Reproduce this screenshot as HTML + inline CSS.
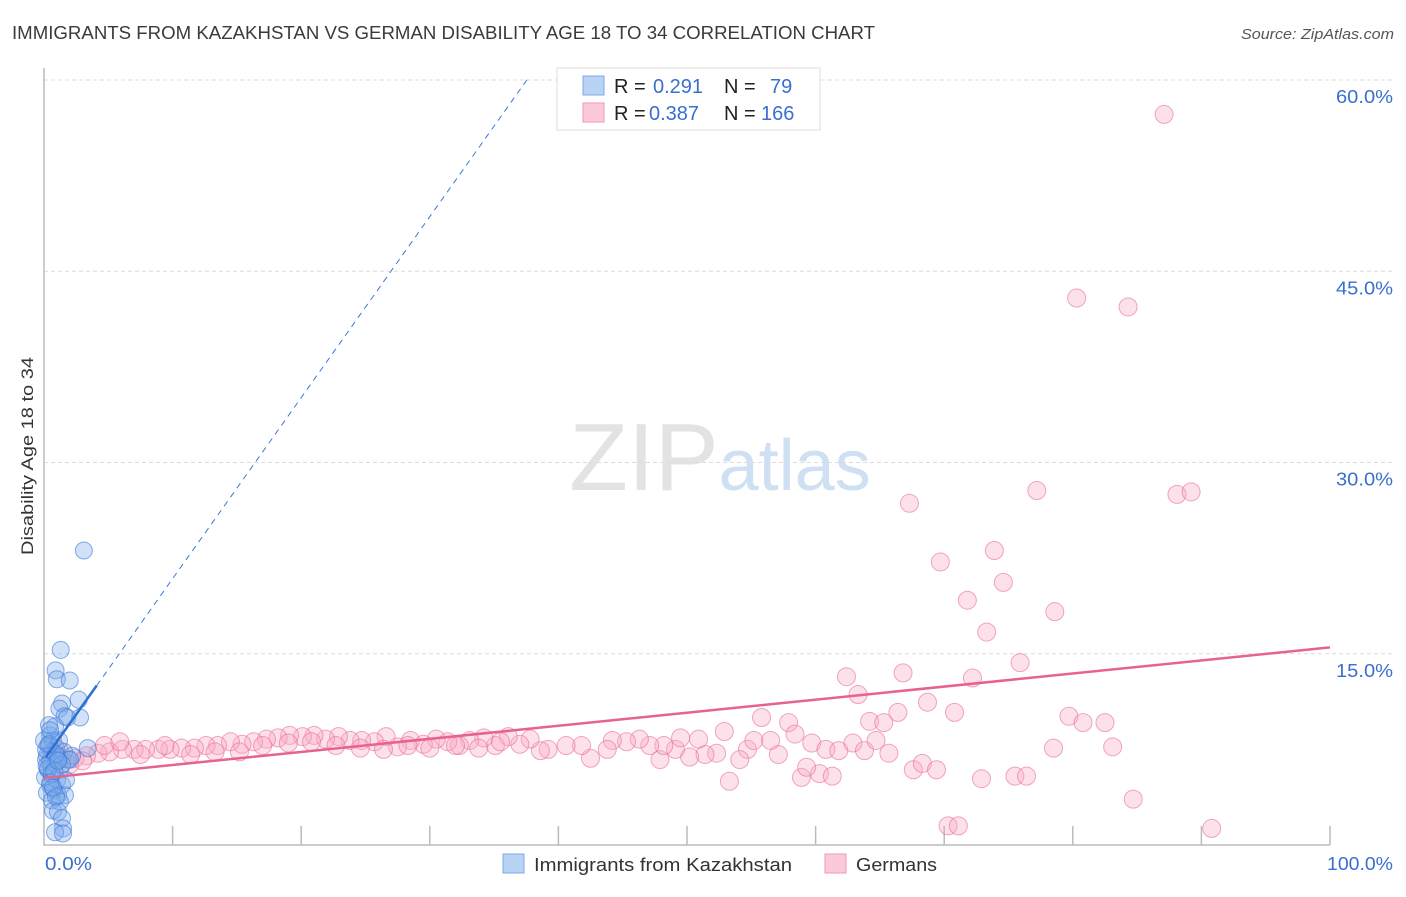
<!DOCTYPE html>
<html><head><meta charset="utf-8"><style>
body{margin:0;background:#fff;font-family:"Liberation Sans",sans-serif;}
svg text{font-family:"Liberation Sans",sans-serif;}
</style></head><body>
<svg id="chart" width="1406" height="892" xmlns="http://www.w3.org/2000/svg">
<text x="12" y="39" font-size="18" fill="#3a3a3a" textLength="863" lengthAdjust="spacingAndGlyphs">IMMIGRANTS FROM KAZAKHSTAN VS GERMAN DISABILITY AGE 18 TO 34 CORRELATION CHART</text>
<text x="1241" y="39" font-size="15" fill="#555" font-style="italic" textLength="153" lengthAdjust="spacingAndGlyphs">Source: ZipAtlas.com</text>
<text x="720" y="490" font-size="96" text-anchor="middle" fill="#e3e3e3" font-family="Liberation Serif">ZIP<tspan fill="#cfe0f3" font-family="Liberation Sans" font-size="72">atlas</tspan></text>
<g id="grid"></g>
<g id="axes"></g>
<g id="pinkpts"></g>
<g id="bluepts"></g>
<g id="trends"></g>
<text transform="translate(33,555) rotate(-90)" font-size="17" fill="#333" textLength="198" lengthAdjust="spacingAndGlyphs">Disability Age 18 to 34</text>
<g>
<rect x="557" y="68" width="263" height="62" fill="#fff" stroke="#ddd"/>
<rect x="583" y="76" width="21" height="19" fill="#b9d3f5" stroke="#7faae6"/>
<rect x="583" y="103" width="21" height="19" fill="#fcc9d8" stroke="#ef9ab4"/>
<text x="614" y="93" font-size="20" fill="#222">R = <tspan fill="#3a6fd0" x="653">0.291</tspan><tspan fill="#222" x="724">N =</tspan><tspan fill="#3a6fd0" x="770">79</tspan></text>
<text x="614" y="120" font-size="20" fill="#222">R = <tspan fill="#3a6fd0" x="649">0.387</tspan><tspan fill="#222" x="724">N =</tspan><tspan fill="#3a6fd0" x="761">166</tspan></text>
</g>
<g>
<rect x="503" y="854" width="21" height="19" fill="#b9d3f5" stroke="#7faae6"/>
<text x="534" y="871" font-size="18" fill="#333" textLength="258" lengthAdjust="spacingAndGlyphs">Immigrants from Kazakhstan</text>
<rect x="825" y="854" width="21" height="19" fill="#fcc9d8" stroke="#ef9ab4"/>
<text x="856" y="871" font-size="18" fill="#333" textLength="81" lengthAdjust="spacingAndGlyphs">Germans</text>
</g>
</svg>
<script>
const yTicks=[15,30,45,60];
const yTickLabels=["15.0%","30.0%","45.0%","60.0%"];
const xTickLabels=["0.0%","100.0%"];
const blueX=[3.1,1.3,0.9,1.0,2.0,2.7,1.4,1.2,2.8,1.6,1.8,3.4,0.47,0.7,0.31,0.93,0.62,0.23,1.09,0.47,0.86,0.31,1.24,0.62,0.08,1.01,0.47,1.4,0.78,0.23,1.09,1.63,0.62,1.24,1.71,1.87,1.56,0.86,0.39,1.17,2.18,2.02,0.16,0.16,0,0.7,1.09,1.4,1.48,0.86,1.48,1.09,1.4,0.47,0.93,0.3,0.6,0.9,0.2,0.5,0.8,1.1,0.4,0.7];
const blueY=[23.1,15.3,13.7,13.0,12.9,11.4,11.1,10.7,10.0,10.1,10.0,7.6,8.6,8.2,7.8,7.6,7.3,7.0,6.9,6.5,6.3,5.9,5.9,5.5,5.3,5.1,4.7,4.7,4.3,4.1,3.9,3.9,3.5,3.4,5.1,6.7,7.3,9.3,9.4,8.2,7.0,6.7,6.7,7.5,8.2,2.7,2.6,2.1,1.3,1.0,0.9,6.7,6.3,9.0,3.8,6.0,5.6,7.1,6.2,4.9,5.8,6.6,7.9,4.5];
const pinkX=[87.1,80.3,84.3,67.3,77.2,88.1,89.2,69.7,73.9,74.6,71.8,78.6,73.3,75.9,62.4,66.8,72.2,63.3,68.7,66.4,70.8,64.2,65.3,79.7,80.8,82.5,78.5,83.1,84.7,90.8,70.3,71.1,72.9,75.5,76.4,67.6,68.3,69.4,55.8,57.9,52.9,58.4,58.9,60.3,61.3,59.3,53.3,57.1,59.7,60.8,61.8,62.9,63.8,64.7,65.7,54.7,55.2,56.5,54.1,52.3,51.4,50.2,49.1,47.9,50.9,49.5,48.2,47.1,46.3,45.3,44.2,43.8,42.5,41.8,40.6,39.2,38.6,37.8,37.0,36.1,35.1,34.2,33.1,32.3,31.4,30.5,29.5,28.5,27.5,26.6,25.7,24.7,23.8,22.9,21.9,21.0,20.1,19.1,18.2,17.3,16.3,15.4,14.5,13.5,12.6,11.7,10.7,9.8,8.9,7.9,7.0,6.1,5.1,4.2,3.3,2.4,1.4,0.9,0.5,4.7,5.9,7.5,9.4,11.4,13.3,15.2,17.0,19.0,20.8,22.7,24.6,26.4,28.3,30.0,32.0,33.8,35.5,2.0,3.0,1.2];
const pinkY=[57.3,42.9,42.2,26.8,27.8,27.5,27.7,22.2,23.1,20.6,19.2,18.3,16.7,14.3,13.2,13.5,13.1,11.8,11.2,10.4,10.4,9.7,9.6,10.1,9.6,9.6,7.6,7.7,3.6,1.3,1.5,1.5,5.2,5.4,5.4,5.9,6.4,5.9,10.0,9.6,8.9,8.7,5.3,5.6,5.4,6.1,5.0,7.1,8.0,7.5,7.4,8.0,7.4,8.2,7.2,7.5,8.2,8.2,6.7,7.2,7.1,6.9,7.5,6.7,8.3,8.4,7.8,7.8,8.3,8.1,8.2,7.5,6.8,7.8,7.8,7.5,7.4,8.3,7.9,8.5,7.8,8.4,8.2,7.8,8.1,8.3,7.9,8.2,7.7,8.5,8.1,8.2,8.2,8.5,8.3,8.6,8.5,8.6,8.4,8.3,8.1,7.9,8.1,7.8,7.8,7.6,7.6,7.5,7.5,7.5,7.5,7.5,7.3,7.2,7.0,6.8,6.8,7.2,6.7,7.8,8.1,7.1,7.8,7.1,7.3,7.3,7.8,8.0,8.1,7.8,7.6,7.5,7.8,7.6,7.8,7.6,8.1,6.3,6.6,7.4];
const blueTrend=[0.15,6.9,4.1,1.42];   // x0, y at x0, x end of solid, slope
const pinkTrend=[5.25,15.5];          // y at 0%, y at 100%

const NS="http://www.w3.org/2000/svg";
const X0=44,X1=1330,Y0=845,Y60=80;
const xs=v=>X0+v*(X1-X0)/100;
const ys=v=>Y0-v*(Y0-Y60)/60;
function mk(tag,attrs,parent){const e=document.createElementNS(NS,tag);for(const k in attrs)e.setAttribute(k,attrs[k]);parent.appendChild(e);return e;}
const grid=document.getElementById('grid'),axes=document.getElementById('axes');
yTicks.forEach((t,i)=>{
  const l=mk('line',{x1:X0,x2:1394,y1:ys(t),y2:ys(t),stroke:'#dcdcdc','stroke-dasharray':'4,3'},grid);
  
  
  const tx=mk('text',{x:1336,y:ys(t)+23,'font-size':18,fill:'#3a6fd0',textLength:57,lengthAdjust:'spacingAndGlyphs'},grid);
  tx.textContent=yTickLabels[i];
  
  
});
const ax=mk('path',{d:`M${X0} 68V${Y0}H${X1}`,stroke:'#bbb',fill:'none','stroke-width':1.5},axes);


for(let i=1;i<=10;i++){
  const t=mk('line',{x1:xs(i*10),x2:xs(i*10),y1:826,y2:Y0,stroke:'#bbb','stroke-width':1.5},axes);
  
  
}
[[0,45,47],[100,1327,66]].forEach((d,i)=>{
  const t=mk('text',{x:d[1],y:870,'font-size':18,fill:'#3a6fd0',textLength:d[2],lengthAdjust:'spacingAndGlyphs'},axes);
  t.textContent=xTickLabels[i];
  
  
});
const pg=document.getElementById('pinkpts');
pinkX.forEach((x,i)=>{
  const c=mk('circle',{cx:xs(x),cy:ys(pinkY[i]),r:9,fill:'rgba(248,170,195,0.35)',stroke:'rgba(232,110,150,0.6)','stroke-width':1},pg);
  
  
});
const bg=document.getElementById('bluepts');
blueX.forEach((x,i)=>{
  const c=mk('circle',{cx:xs(x),cy:ys(blueY[i]),r:8.5,fill:'rgba(120,170,235,0.35)',stroke:'rgba(60,120,215,0.6)','stroke-width':1},bg);
  
  
});
const tg=document.getElementById('trends');
const by=x=>blueTrend[1]+(x-blueTrend[0])*blueTrend[3];
const xEnd=blueTrend[0]+(60.2-blueTrend[1])/blueTrend[3];
const bd=mk('line',{x1:xs(blueTrend[2]),y1:ys(by(blueTrend[2])),x2:xs(xEnd),y2:ys(by(xEnd)),stroke:'#3a78d6','stroke-width':1,'stroke-dasharray':'6,5'},tg);


const bs=mk('line',{x1:xs(blueTrend[0]),y1:ys(blueTrend[1]),x2:xs(blueTrend[2]),y2:ys(by(blueTrend[2])),stroke:'#2f6fd3','stroke-width':2.5},tg);


const pl=mk('line',{x1:xs(0),y1:ys(pinkTrend[0]),x2:xs(100),y2:ys(pinkTrend[1]),stroke:'#e8628f','stroke-width':2.5},tg);


</script>
</body></html>
